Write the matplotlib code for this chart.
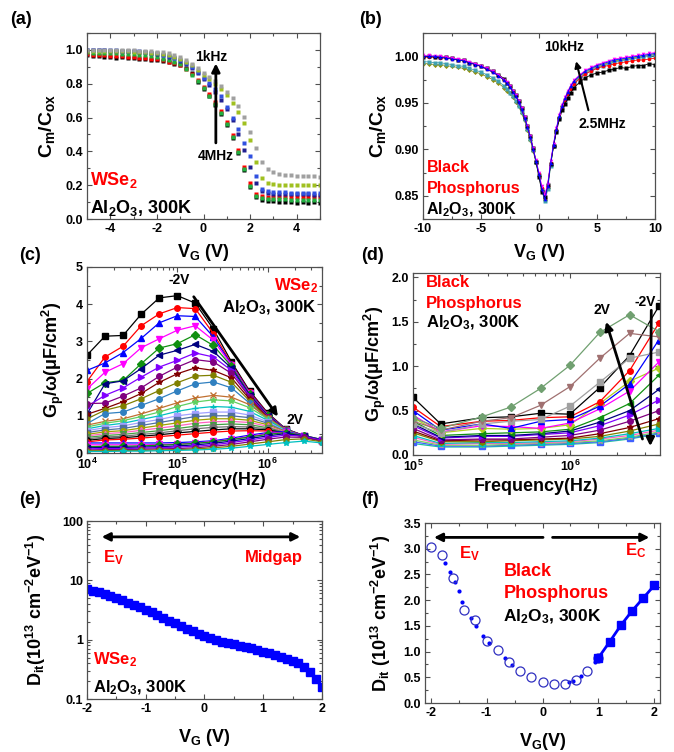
import matplotlib
matplotlib.use("Agg")
import matplotlib.pyplot as plt
from matplotlib.ticker import MultipleLocator, FormatStrFormatter, FuncFormatter, LogLocator, NullFormatter

plt.rcParams.update({
    "font.family": "Liberation Sans",
    "font.weight": "bold",
    "axes.labelweight": "bold",
    "axes.unicode_minus": False,
    "mathtext.fontset": "custom",
    "mathtext.rm": "Liberation Sans:bold",
    "mathtext.bf": "Liberation Sans:bold",
    "mathtext.it": "Liberation Sans:bold",
    "mathtext.default": "bf",
})

# ---------------- (a) WSe2 C-V, 1kHz .. 4MHz ----------------
vg_a = [-5, -4.75, -4.5, -4.25, -4, -3.75, -3.5, -3.25, -3, -2.75, -2.5, -2.25, -2, -1.75,
        -1.5, -1.25, -1, -0.75, -0.5, -0.25, 0, 0.25, 0.5, 0.75, 1, 1.25, 1.5, 1.75, 2, 2.25,
        2.5, 2.75, 3, 3.25, 3.5, 3.75, 4, 4.25, 4.5, 4.75, 5]
cm_black = [0.968, 0.962, 0.966, 0.958, 0.960, 0.955, 0.957, 0.950, 0.952, 0.946, 0.947, 0.940, 0.938, 0.932,
            0.926, 0.915, 0.908, 0.893, 0.862, 0.812, 0.770, 0.725, 0.676, 0.620, 0.555, 0.478, 0.388, 0.288,
            0.190, 0.130, 0.115, 0.108, 0.105, 0.100, 0.098, 0.102, 0.097, 0.100, 0.095, 0.099, 0.094]
cm_red = [0.975, 0.972, 0.970, 0.968, 0.966, 0.964, 0.962, 0.960, 0.958, 0.955, 0.952, 0.948, 0.944, 0.938,
          0.931, 0.922, 0.911, 0.890, 0.855, 0.820, 0.780, 0.737, 0.690, 0.636, 0.572, 0.498, 0.410, 0.310,
          0.210, 0.145, 0.135, 0.132, 0.131, 0.130, 0.130, 0.130, 0.129, 0.129, 0.129, 0.128, 0.128]
cm_green = [0.985, 0.984, 0.983, 0.982, 0.981, 0.980, 0.978, 0.976, 0.974, 0.971, 0.967, 0.962, 0.956, 0.949,
            0.940, 0.929, 0.915, 0.888, 0.850, 0.815, 0.775, 0.730, 0.680, 0.625, 0.560, 0.485, 0.395, 0.295,
            0.195, 0.135, 0.122, 0.118, 0.117, 0.116, 0.116, 0.115, 0.115, 0.115, 0.114, 0.114, 0.114]
cm_navy = [0.998, 0.998, 0.997, 0.997, 0.996, 0.995, 0.994, 0.993, 0.991, 0.989, 0.986, 0.982, 0.977, 0.970,
           0.961, 0.950, 0.935, 0.916, 0.893, 0.864, 0.828, 0.792, 0.752, 0.705, 0.650, 0.585, 0.505, 0.410,
           0.305, 0.210, 0.165, 0.152, 0.148, 0.147, 0.146, 0.146, 0.145, 0.145, 0.145, 0.144, 0.144]
cm_blue = [1.000, 1.000, 0.999, 0.999, 0.998, 0.997, 0.996, 0.995, 0.993, 0.991, 0.988, 0.984, 0.979, 0.972,
           0.963, 0.952, 0.938, 0.920, 0.898, 0.872, 0.835, 0.805, 0.770, 0.725, 0.665, 0.600, 0.530, 0.450,
           0.370, 0.255, 0.180, 0.165, 0.160, 0.158, 0.157, 0.156, 0.155, 0.155, 0.154, 0.154, 0.153]
cm_olive = [0.995, 0.995, 0.994, 0.994, 0.993, 0.993, 0.992, 0.991, 0.990, 0.988, 0.986, 0.983, 0.979, 0.974,
            0.967, 0.958, 0.946, 0.930, 0.910, 0.884, 0.853, 0.828, 0.800, 0.768, 0.731, 0.688, 0.635, 0.565,
            0.470, 0.340, 0.245, 0.215, 0.207, 0.204, 0.203, 0.202, 0.201, 0.200, 0.200, 0.199, 0.199]
cm_gray = [1.000, 1.000, 1.000, 1.000, 0.999, 0.999, 0.998, 0.998, 0.997, 0.996, 0.994, 0.992, 0.989, 0.985,
           0.979, 0.970, 0.957, 0.940, 0.918, 0.892, 0.862, 0.840, 0.815, 0.786, 0.752, 0.714, 0.668, 0.605,
           0.515, 0.420, 0.335, 0.293, 0.277, 0.268, 0.262, 0.259, 0.257, 0.255, 0.254, 0.252, 0.251]
curves_a = [cm_black, cm_red, cm_green, cm_navy, cm_blue, cm_olive, cm_gray]
colors_a = ["black", "red", "#20b040", "#202090", "#3050e0", "#a0c020", "#a0a0a0"]

# ---------------- (b) Black phosphorus C-V, 10kHz .. 2.5MHz ----------------
vg_b = [-10, -9.5, -9, -8.5, -8, -7.5, -7, -6.5, -6, -5.5, -5, -4.5, -4, -3.5, -3,
        -2.75, -2.5, -2.25, -2, -1.75, -1.5, -1.25, -1, -0.75, -0.5, -0.25, 0, 0.25, 0.5, 0.75,
        1, 1.25, 1.5, 1.75, 2, 2.25, 2.5, 2.75, 3,
        3.5, 4, 4.5, 5, 5.5, 6, 6.5, 7, 7.5, 8, 8.5, 9, 9.5, 10]
cb_olive = [0.992, 0.992, 0.991, 0.991, 0.990, 0.989, 0.988, 0.987, 0.985, 0.983, 0.981, 0.978, 0.975, 0.971, 0.966,
            0.963, 0.960, 0.956, 0.951, 0.946, 0.939, 0.931, 0.921, 0.910, 0.898, 0.885, 0.871, 0.856, 0.845, 0.858,
            0.883, 0.904, 0.921, 0.935, 0.946, 0.954, 0.961, 0.967, 0.972,
            0.978, 0.983, 0.986, 0.989, 0.991, 0.993, 0.995, 0.996, 0.997, 0.998, 0.999, 1.000, 1.001, 1.002]
cb_teal = [0.994, 0.994, 0.993, 0.993, 0.992, 0.991, 0.990, 0.989, 0.987, 0.985, 0.983, 0.980, 0.977, 0.973, 0.968,
           0.965, 0.961, 0.957, 0.952, 0.947, 0.940, 0.932, 0.922, 0.911, 0.899, 0.886, 0.872, 0.856, 0.844, 0.857,
           0.882, 0.903, 0.920, 0.934, 0.945, 0.953, 0.960, 0.966, 0.971,
           0.977, 0.982, 0.985, 0.988, 0.990, 0.992, 0.994, 0.995, 0.996, 0.997, 0.998, 0.999, 1.000, 1.001]
cb_red = [0.999, 0.999, 0.999, 0.998, 0.998, 0.997, 0.996, 0.995, 0.993, 0.991, 0.989, 0.986, 0.983, 0.979, 0.974,
          0.971, 0.967, 0.962, 0.957, 0.951, 0.943, 0.934, 0.924, 0.913, 0.900, 0.887, 0.873, 0.858, 0.848, 0.861,
          0.885, 0.904, 0.921, 0.934, 0.945, 0.953, 0.959, 0.965, 0.970,
          0.976, 0.981, 0.984, 0.987, 0.989, 0.990, 0.992, 0.993, 0.994, 0.995, 0.996, 0.996, 0.997, 0.998]
cb_black = [0.999, 1.000, 0.999, 0.999, 0.999, 0.998, 0.996, 0.996, 0.993, 0.992, 0.989, 0.987, 0.984, 0.980, 0.976,
            0.971, 0.968, 0.963, 0.958, 0.952, 0.944, 0.935, 0.925, 0.914, 0.901, 0.886, 0.870, 0.854, 0.849, 0.862,
            0.884, 0.903, 0.919, 0.932, 0.942, 0.949, 0.955, 0.961, 0.966,
            0.972, 0.977, 0.980, 0.982, 0.983, 0.985, 0.986, 0.988, 0.987, 0.989, 0.990, 0.990, 0.992, 0.991]
cb_magenta = [1.001, 1.001, 1.000, 1.000, 0.999, 0.998, 0.997, 0.996, 0.994, 0.992, 0.990, 0.987, 0.984, 0.980, 0.975,
              0.972, 0.968, 0.963, 0.958, 0.952, 0.944, 0.935, 0.925, 0.914, 0.901, 0.888, 0.875, 0.860, 0.851, 0.863,
              0.887, 0.906, 0.923, 0.937, 0.948, 0.956, 0.963, 0.969, 0.974,
              0.980, 0.985, 0.988, 0.991, 0.993, 0.995, 0.997, 0.998, 0.999, 1.000, 1.001, 1.002, 1.003, 1.004]
cb_blue = [1.000, 1.000, 1.000, 0.999, 0.998, 0.997, 0.996, 0.995, 0.993, 0.991, 0.989, 0.986, 0.983, 0.979, 0.974,
           0.971, 0.967, 0.962, 0.957, 0.951, 0.943, 0.934, 0.924, 0.913, 0.900, 0.887, 0.873, 0.857, 0.846, 0.860,
           0.885, 0.905, 0.922, 0.936, 0.947, 0.955, 0.962, 0.968, 0.973,
           0.979, 0.984, 0.987, 0.990, 0.992, 0.994, 0.996, 0.997, 0.998, 0.999, 1.000, 1.001, 1.002, 1.003]
curves_b = [cb_olive, cb_teal, cb_red, cb_black, cb_magenta, cb_blue]
colors_b = ["#909010", "#40a0b0", "red", "black", "magenta", "blue"]
markers_b = ["D", "s", "o", "s", "v", "^"]

# ---------------- (c) WSe2 Gp/w vs frequency, -2V .. 2V ----------------
freq_c = [1e4, 1.58e4, 2.51e4, 3.98e4, 6.31e4, 1e5, 1.58e5, 2.51e5, 3.98e5, 6.31e5, 1e6, 1.58e6, 2.51e6, 3.98e6]
gp_c = [
    [2.63, 3.14, 3.16, 3.73, 4.17, 4.23, 4.03, 3.33, 2.45, 1.67, 1.08, 0.65, 0.47, 0.34],
    [1.92, 2.58, 2.87, 3.42, 3.74, 3.91, 3.88, 3.21, 2.40, 1.64, 1.06, 0.64, 0.47, 0.34],
    [2.22, 2.42, 2.70, 3.08, 3.50, 3.69, 3.67, 3.12, 2.38, 1.62, 1.04, 0.64, 0.47, 0.34],
    [1.72, 2.17, 2.40, 2.83, 3.07, 3.30, 3.42, 3.03, 2.36, 1.60, 1.02, 0.63, 0.46, 0.34],
    [1.60, 1.89, 1.95, 2.40, 2.82, 2.94, 3.18, 2.89, 2.33, 1.58, 1.01, 0.63, 0.46, 0.34],
    [1.05, 1.86, 1.94, 2.27, 2.63, 2.76, 2.92, 2.73, 2.28, 1.56, 1.00, 0.62, 0.46, 0.34],
    [1.25, 1.55, 1.75, 2.04, 2.31, 2.49, 2.69, 2.58, 2.22, 1.53, 0.98, 0.62, 0.46, 0.34],
    [1.33, 1.34, 1.53, 1.75, 2.06, 2.31, 2.51, 2.45, 2.14, 1.50, 0.97, 0.61, 0.46, 0.34],
    [1.04, 1.20, 1.38, 1.60, 1.90, 2.13, 2.29, 2.22, 2.02, 1.45, 0.95, 0.61, 0.45, 0.34],
    [0.92, 1.15, 1.27, 1.46, 1.68, 1.89, 2.07, 2.09, 1.90, 1.40, 0.93, 0.60, 0.45, 0.33],
    [0.79, 1.06, 1.10, 1.28, 1.46, 1.67, 1.86, 1.91, 1.75, 1.34, 0.91, 0.60, 0.45, 0.33],
    [0.75, 0.85, 0.92, 1.05, 1.20, 1.35, 1.48, 1.55, 1.50, 1.30, 0.95, 0.62, 0.46, 0.34],
    [0.70, 0.80, 0.87, 0.98, 1.10, 1.25, 1.37, 1.43, 1.40, 1.22, 0.92, 0.60, 0.45, 0.33],
    [0.65, 0.74, 0.80, 0.90, 1.00, 1.12, 1.20, 1.25, 1.23, 1.12, 0.88, 0.60, 0.45, 0.33],
    [0.60, 0.68, 0.73, 0.82, 0.90, 1.00, 1.06, 1.10, 1.10, 1.02, 0.84, 0.59, 0.45, 0.33],
    [0.55, 0.62, 0.66, 0.74, 0.82, 0.90, 0.98, 1.00, 1.00, 0.95, 0.80, 0.58, 0.44, 0.33],
    [0.50, 0.57, 0.60, 0.67, 0.74, 0.81, 0.88, 0.92, 0.92, 0.88, 0.76, 0.57, 0.44, 0.33],
    [0.46, 0.52, 0.55, 0.61, 0.67, 0.73, 0.80, 0.84, 0.85, 0.82, 0.72, 0.56, 0.44, 0.33],
    [0.42, 0.47, 0.50, 0.55, 0.60, 0.66, 0.72, 0.76, 0.78, 0.76, 0.68, 0.55, 0.44, 0.33],
    [0.38, 0.43, 0.45, 0.50, 0.54, 0.60, 0.65, 0.69, 0.71, 0.70, 0.65, 0.54, 0.44, 0.33],
    [0.34, 0.39, 0.41, 0.45, 0.49, 0.54, 0.58, 0.62, 0.65, 0.65, 0.62, 0.54, 0.44, 0.33],
    [0.30, 0.35, 0.37, 0.40, 0.44, 0.48, 0.52, 0.56, 0.59, 0.60, 0.59, 0.53, 0.44, 0.33],
    [0.27, 0.27, 0.27, 0.27, 0.27, 0.28, 0.30, 0.33, 0.40, 0.48, 0.55, 0.58, 0.47, 0.36],
    [0.22, 0.22, 0.22, 0.22, 0.23, 0.24, 0.27, 0.31, 0.37, 0.45, 0.52, 0.56, 0.47, 0.36],
    [0.17, 0.18, 0.18, 0.19, 0.21, 0.23, 0.26, 0.30, 0.36, 0.43, 0.50, 0.55, 0.47, 0.36],
    [0.14, 0.15, 0.15, 0.16, 0.17, 0.19, 0.22, 0.26, 0.32, 0.39, 0.46, 0.52, 0.46, 0.35],
    [0.11, 0.12, 0.12, 0.13, 0.14, 0.16, 0.18, 0.22, 0.28, 0.35, 0.42, 0.48, 0.45, 0.34],
    [0.08, 0.09, 0.09, 0.10, 0.11, 0.12, 0.14, 0.18, 0.23, 0.30, 0.37, 0.43, 0.42, 0.32],
    [0.06, 0.06, 0.07, 0.07, 0.08, 0.09, 0.11, 0.14, 0.18, 0.24, 0.30, 0.36, 0.38, 0.30],
    [0.04, 0.04, 0.05, 0.05, 0.06, 0.07, 0.08, 0.10, 0.13, 0.18, 0.23, 0.28, 0.32, 0.27],
]
colors_c = ["black", "red", "blue", "magenta", "#109010", "navy", "#8000ff", "#800080", "#800000", "#808000",
            "#3080c0", "#c07030", "#60d060", "#00c0c0", "#a0a0ff", "#5070a0", "#a0a000", "#ff60c0", "#40a040", "#707070",
            "black", "red", "blue", "magenta", "#109010", "navy", "#8000ff", "#800080", "#808000", "#00c0c0"]
markers_c = ["s", "o", "^", "v", "D", "<", ">", "o", "*", "h", "o", "x", "*", "+", "s", "s", "o", "^", "v", "D",
             "o", "o", "^", "v", "D", "<", ">", "o", "h", "*"]

# ---------------- (d) Black phosphorus Gp/w vs frequency ----------------
freq_d = [1e5, 1.5e5, 2.75e5, 4.2e5, 6.5e5, 1e6, 1.55e6, 2.4e6, 3.7e6]
gp_d = [
    [0.13, 0.09, 0.09, 0.10, 0.11, 0.12, 0.14, 0.18, 0.24],
    [0.15, 0.10, 0.10, 0.11, 0.12, 0.13, 0.15, 0.19, 0.25],
    [0.17, 0.11, 0.11, 0.12, 0.13, 0.14, 0.16, 0.20, 0.26],
    [0.20, 0.12, 0.13, 0.13, 0.14, 0.15, 0.18, 0.22, 0.28],
    [0.22, 0.13, 0.14, 0.14, 0.15, 0.16, 0.19, 0.24, 0.30],
    [0.25, 0.15, 0.15, 0.16, 0.17, 0.18, 0.21, 0.27, 0.35],
    [0.27, 0.16, 0.17, 0.17, 0.18, 0.19, 0.24, 0.31, 0.41],
    [0.30, 0.17, 0.18, 0.18, 0.20, 0.22, 0.28, 0.38, 0.50],
    [0.33, 0.19, 0.21, 0.21, 0.23, 0.25, 0.33, 0.45, 0.62],
    [0.35, 0.20, 0.22, 0.22, 0.24, 0.27, 0.37, 0.50, 0.74],
    [0.38, 0.22, 0.24, 0.25, 0.26, 0.29, 0.42, 0.58, 0.90],
    [0.42, 0.25, 0.30, 0.29, 0.30, 0.34, 0.58, 0.83, 0.98],
    [0.45, 0.26, 0.33, 0.32, 0.30, 0.36, 0.52, 0.72, 1.05],
    [0.50, 0.28, 0.35, 0.30, 0.38, 0.40, 0.55, 0.80, 1.30],
    [0.54, 0.32, 0.38, 0.39, 0.42, 0.43, 0.60, 0.95, 1.49],
    [0.65, 0.35, 0.42, 0.43, 0.47, 0.46, 0.76, 1.12, 1.68],
    [0.35, 0.25, 0.35, 0.38, 0.40, 0.55, 0.82, 1.09, 1.16],
    [0.38, 0.28, 0.38, 0.42, 0.56, 0.77, 1.09, 1.37, 1.33],
    [0.42, 0.30, 0.43, 0.54, 0.75, 1.01, 1.38, 1.58, 1.39],
]
colors_d = ["#20c0a0", "#4060ff", "#80d060", "#ff60c0", "#00c0c0", "#808000", "#800000", "#800080", "#8000ff",
            "navy", "#109010", "#b0d020", "magenta", "blue", "red", "black", "#a0a0a0", "#a07070", "#70a070"]
markers_d = ["*", "s", "*", "o", "s", "h", "*", "o", ">", "<", "<", "D", "v", "^", "o", "s", "s", "v", "D"]

# ---------------- (e) WSe2 Dit ----------------
vg_e = [-2.0, -1.9, -1.8, -1.7, -1.6, -1.5, -1.4, -1.3, -1.2, -1.1, -1.0, -0.9, -0.8, -0.7,
        -0.6, -0.5, -0.4, -0.3, -0.2, -0.1, 0.0, 0.1, 0.2, 0.3, 0.4, 0.5, 0.6, 0.7, 0.8, 0.9,
        1.0, 1.1, 1.2, 1.3, 1.4, 1.5, 1.6, 1.7, 1.8, 1.9, 2.0]
dit_e = [7.2, 6.7, 6.3, 5.9, 5.5, 5.0, 4.6, 4.2, 3.9, 3.5, 3.2, 2.9, 2.6, 2.35,
         2.1, 1.9, 1.7, 1.52, 1.38, 1.25, 1.15, 1.06, 0.99, 0.93, 0.88, 0.83, 0.79, 0.75, 0.71, 0.67,
         0.63, 0.60, 0.56, 0.52, 0.48, 0.44, 0.40, 0.34, 0.28, 0.22, 0.16]

# ---------------- (f) Black phosphorus Dit ----------------
vg_f_open = [-2.0, -1.8, -1.6, -1.4, -1.2, -1.0, -0.8, -0.6, -0.4, -0.2, 0.0, 0.2, 0.4, 0.6, 0.8, 1.0]
dit_f_open = [3.03, 2.88, 2.43, 1.80, 1.61, 1.21, 1.04, 0.80, 0.62, 0.50, 0.40, 0.37, 0.36, 0.45, 0.62, 0.88]
vg_f_dots = [-1.74, -1.65, -1.56, -1.50, -1.44, -1.27, -1.18, -1.07, -0.95, -0.67, -0.55, 0.47, 0.54, 0.69, 0.94]
dit_f_dots = [2.73, 2.55, 2.35, 2.17, 1.97, 1.66, 1.49, 1.31, 1.16, 0.87, 0.74, 0.41, 0.43, 0.52, 0.79]
vg_f_sq = [1.0, 1.2, 1.4, 1.6, 1.8, 2.0]
dit_f_sq = [0.88, 1.19, 1.51, 1.79, 2.04, 2.29]

W, H = 674, 752
fig = plt.figure(figsize=(W / 100, H / 100), dpi=100)


def px_axes(left, top, right, bottom):
    return fig.add_axes([left / W, 1 - bottom / H, (right - left) / W, (bottom - top) / H])


def style(ax):
    for s in ax.spines.values():
        s.set_color("#505050")
        s.set_linewidth(0.9)
    ax.tick_params(which="both", direction="in", top=True, right=True, labelsize=9,
                   color="#505050", width=0.8, pad=3)
    ax.tick_params(which="major", length=3.5)
    ax.tick_params(which="minor", length=2)


def arrow(ax, start, end, lw=2.0, style_="-|>", ms=12):
    ax.annotate("", xy=end, xytext=start,
                arrowprops=dict(arrowstyle=style_, color="black", lw=lw, mutation_scale=ms,
                                shrinkA=0, shrinkB=0))


al2o3 = "Al$_2$O$_3$, 300K"

# (a)
ax = px_axes(87, 33, 320, 219)
for y, c in zip(curves_a, colors_a):
    ax.plot(vg_a, y, ls="none", marker="s", ms=2.6, mec="none", color=c)
ax.set_xlim(-5, 5)
ax.set_ylim(0, 1.1)
ax.xaxis.set_major_locator(MultipleLocator(2))
ax.xaxis.set_minor_locator(MultipleLocator(1))
ax.yaxis.set_major_locator(MultipleLocator(0.2))
ax.yaxis.set_minor_locator(MultipleLocator(0.1))
ax.yaxis.set_major_formatter(FormatStrFormatter("%.1f"))
style(ax)
ax.set_xlabel("V$_G$ (V)", fontsize=13)
ax.set_ylabel("C$_m$/C$_{ox}$", fontsize=14)
ax.xaxis.set_label_coords(0.5, -0.125)
ax.yaxis.set_label_coords(-0.13, 0.5)
arrow(ax, (0.53, 0.45), (0.53, 0.92))
ax.text(0.34, 0.96, "1kHz", fontsize=10, ha="center", va="center")
ax.text(0.53, 0.37, "4MHz", fontsize=10, ha="center", va="center")
ax.text(-4.86, 0.23, "WSe$_2$", color="red", fontsize=13, va="center")
ax.text(-4.86, 0.065, al2o3, fontsize=13, va="center")

# (b)
ax = px_axes(423, 33, 655, 219)
for y, c, m in zip(curves_b, colors_b, markers_b):
    ax.plot(vg_b, y, lw=0.6, marker=m, ms=2.6, mec="none", color=c)
ax.set_xlim(-10, 10)
ax.set_ylim(0.825, 1.025)
ax.xaxis.set_major_locator(MultipleLocator(5))
ax.xaxis.set_minor_locator(MultipleLocator(2.5))
ax.set_yticks([0.85, 0.90, 0.95, 1.00])
ax.yaxis.set_minor_locator(MultipleLocator(0.025))
ax.yaxis.set_major_formatter(FormatStrFormatter("%.2f"))
style(ax)
ax.set_xlabel("V$_G$ (V)", fontsize=13)
ax.set_ylabel("C$_m$/C$_{ox}$", fontsize=14)
ax.xaxis.set_label_coords(0.5, -0.125)
ax.yaxis.set_label_coords(-0.15, 0.5)
arrow(ax, (4.26, 0.942), (3.2, 0.9946), lw=1.5, ms=9)
ax.text(2.17, 1.0098, "10kHz", fontsize=10, ha="center", va="center")
ax.text(5.5, 0.927, "2.5MHz", fontsize=10, ha="center", va="center")
ax.text(-9.7, 0.880, "Black", color="red", fontsize=11.5, va="center")
ax.text(-9.7, 0.858, "Phosphorus", color="red", fontsize=11.5, va="center")
ax.text(-9.7, 0.835, al2o3, fontsize=11.5, va="center")

# (c)
ax = px_axes(87, 267, 322, 453)
for y, c, m in zip(gp_c, colors_c, markers_c):
    ax.plot(freq_c, y, lw=0.9, marker=m, ms=4, color=c)
ax.set_xscale("log")
ax.set_xlim(1e4, 4e6)
ax.set_ylim(0, 5)
ax.yaxis.set_major_locator(MultipleLocator(1))
ax.yaxis.set_minor_locator(MultipleLocator(0.5))
ax.xaxis.set_minor_locator(LogLocator(base=10, subs=range(2, 10)))
ax.xaxis.set_minor_formatter(NullFormatter())
style(ax)
ax.set_xlabel("Frequency(Hz)", fontsize=13)
ax.set_ylabel("G$_p$/ω(μF/cm$^2$)", fontsize=13)
ax.xaxis.set_label_coords(0.5, -0.1)
ax.yaxis.set_label_coords(-0.09, 0.5)
arrow(ax, (1.52e5, 4.2), (1.3e6, 0.98))
ax.text(1.05e5, 4.64, "-2V", fontsize=10, ha="center", va="center")
ax.text(2.0e6, 0.88, "2V", fontsize=10, ha="center", va="center")
ax.text(3.6e6, 4.5, "WSe$_2$", color="red", fontsize=12, ha="right", va="center")
ax.text(3.5e6, 3.9, al2o3, fontsize=12, ha="right", va="center")

# (d)
ax = px_axes(413, 273, 660, 455)
for y, c, m in zip(gp_d, colors_d, markers_d):
    ax.plot(freq_d, y, lw=0.9, marker=m, ms=4, color=c)
ax.set_xscale("log")
ax.set_xlim(1e5, 3.75e6)
ax.set_ylim(0, 2.05)
ax.yaxis.set_major_locator(MultipleLocator(0.5))
ax.yaxis.set_minor_locator(MultipleLocator(0.25))
ax.yaxis.set_major_formatter(FormatStrFormatter("%.1f"))
ax.xaxis.set_minor_locator(LogLocator(base=10, subs=range(2, 10)))
ax.xaxis.set_minor_formatter(NullFormatter())
style(ax)
ax.set_xlabel("Frequency(Hz)", fontsize=13)
ax.set_ylabel("G$_p$/ω(μF/cm$^2$)", fontsize=13)
ax.xaxis.set_label_coords(0.5, -0.125)
ax.yaxis.set_label_coords(-0.1, 0.5)
arrow(ax, (2.9e6, 0.18), (1.7e6, 1.5))
arrow(ax, (3.3e6, 1.63), (3.25e6, 0.1))
ax.text(1.6e6, 1.63, "2V", fontsize=10, ha="center", va="center")
ax.text(3.0e6, 1.72, "-2V", fontsize=10, ha="center", va="center")
ax.text(1.21e5, 1.94, "Black", color="red", fontsize=12, va="center")
ax.text(1.21e5, 1.71, "Phosphorus", color="red", fontsize=12, va="center")
ax.text(1.21e5, 1.49, al2o3, fontsize=12, va="center")

# (e)
ax = px_axes(87, 521, 322, 699)
ax.plot(vg_e, dit_e, lw=2, marker="s", ms=5.5, color="blue")
ax.set_yscale("log")
ax.set_xlim(-2, 2)
ax.set_ylim(0.1, 100)
ax.xaxis.set_major_locator(MultipleLocator(1))
ax.xaxis.set_minor_locator(MultipleLocator(0.5))
ax.yaxis.set_major_formatter(FuncFormatter(lambda v, p: f"{v:g}"))
ax.yaxis.set_minor_formatter(NullFormatter())
style(ax)
ax.set_xlabel("V$_G$ (V)", fontsize=13)
ax.set_ylabel("D$_{it}$(10$^{13}$ cm$^{-2}$eV$^{-1}$)", fontsize=13)
ax.xaxis.set_label_coords(0.5, -0.155)
ax.yaxis.set_label_coords(-0.165, 0.5)
arrow(ax, (-1.75, 54), (1.63, 54), style_="<|-|>")
ax.text(-1.72, 24, "E$_V$", color="red", fontsize=12, va="center")
ax.text(1.68, 24, "Midgap", color="red", fontsize=12, ha="right", va="center")
ax.text(-1.9, 0.46, "WSe$_2$", color="red", fontsize=12, va="center")
ax.text(-1.9, 0.153, al2o3, fontsize=12, va="center")

# (f)
ax = px_axes(425, 523, 660, 703)
ax.plot(vg_f_dots, dit_f_dots, ls="none", marker="o", ms=2, color="blue")
ax.plot(vg_f_open, dit_f_open, ls="none", marker="o", ms=6.5, mfc="none", mec="#3030c0", mew=0.9)
ax.plot(vg_f_sq, dit_f_sq, lw=2, marker="s", ms=5.5, color="blue")
ax.set_xlim(-2.1, 2.1)
ax.set_ylim(0, 3.5)
ax.xaxis.set_major_locator(MultipleLocator(1))
ax.xaxis.set_minor_locator(MultipleLocator(0.5))
ax.yaxis.set_major_locator(MultipleLocator(0.5))
ax.yaxis.set_minor_locator(MultipleLocator(0.25))
ax.yaxis.set_major_formatter(FormatStrFormatter("%.1f"))
style(ax)
ax.set_xlabel("V$_G$(V)", fontsize=13)
ax.set_ylabel("D$_{it}$ (10$^{13}$ cm$^{-2}$eV$^{-1}$)", fontsize=13)
ax.xaxis.set_label_coords(0.5, -0.155)
ax.yaxis.set_label_coords(-0.136, 0.5)
arrow(ax, (0.01, 3.22), (-1.94, 3.22))
arrow(ax, (0.18, 3.22), (1.91, 3.22))
ax.text(-1.5, 2.9, "E$_V$", color="red", fontsize=12, va="center")
ax.text(1.47, 2.97, "E$_C$", color="red", fontsize=12, va="center")
ax.text(-0.7, 2.55, "Black", color="red", fontsize=13, va="center")
ax.text(-0.7, 2.13, "Phosphorus", color="red", fontsize=13, va="center")
ax.text(-0.7, 1.68, al2o3, fontsize=12.5, va="center")

# panel letters
for lab, x, y in [("(a)", 21, 19), ("(b)", 370, 19), ("(c)", 30, 255),
                  ("(d)", 372, 255), ("(e)", 30, 500), ("(f)", 370, 499)]:
    fig.text(x / W, 1 - y / H, lab, fontsize=13, ha="center", va="center")

fig.savefig("out.png", dpi=100)
